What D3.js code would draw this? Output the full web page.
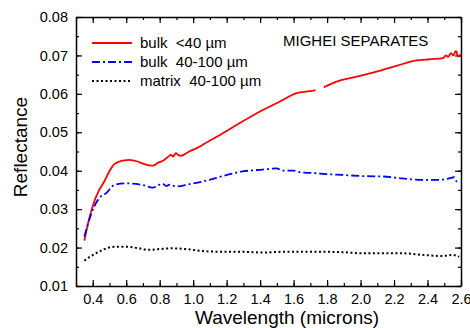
<!DOCTYPE html>
<html lang="en">
<head>
<meta charset="UTF-8">
<title>Mighei separates</title>
<style>
  body { margin: 0; background: #fff; }
  svg text { font-family: "Liberation Sans", Arial, sans-serif; fill: #000; }
  .axis path, .axis line { stroke: #000; }
  .axis path { stroke-width: 1.5; }
  .legend text { white-space: pre; }
</style>
</head>
<body>
<svg id="chart"></svg>
<script src="https://cdnjs.cloudflare.com/ajax/libs/d3/7.9.0/d3.min.js"></script>
<script>
// bulk <40 um (null = gap in the trace)
const bulkFineX = [0.35, 0.379, 0.409, 0.439, 0.469, 0.499, 0.529, 0.559, 0.59, 0.618, 0.668, 0.708, 0.758, 0.788, 0.827, 0.85, 0.867, 0.88, 0.897, 0.91, 0.927, 0.976, 1.04, 1.066, 1.16, 1.279, 1.399, 1.518, 1.618, 1.697, 1.73, 1.755, 1.78, 1.856, 1.976, 2.095, 2.215, 2.334, 2.413, 2.493, 2.51, 2.523, 2.54, 2.553, 2.57, 2.583, 2.6];
const bulkFineY = [0.0218, 0.0276, 0.0320, 0.0350, 0.0372, 0.0398, 0.0417, 0.0424, 0.0427, 0.0428, 0.0424, 0.0417, 0.0413, 0.0420, 0.0428, 0.0436, 0.0441, 0.0437, 0.0446, 0.0441, 0.0439, 0.0450, 0.0463, 0.0470, 0.0493, 0.0524, 0.0554, 0.0580, 0.0602, 0.0607, 0.0610, null, 0.0617, 0.0632, 0.0645, 0.0658, 0.0673, 0.0687, 0.0690, 0.0693, 0.0700, 0.0696, 0.0706, 0.0700, 0.0712, 0.0697, 0.0703];

// bulk 40-100 um
const bulkCoarseX = [0.35, 0.379, 0.409, 0.449, 0.479, 0.529, 0.599, 0.698, 0.758, 0.818, 0.84, 0.86, 0.897, 0.976, 1.096, 1.176, 1.295, 1.415, 1.498, 1.534, 1.597, 1.653, 1.717, 1.773, 1.892, 2.012, 2.131, 2.25, 2.37, 2.449, 2.529, 2.56, 2.575, 2.59];
const bulkCoarseY = [0.0228, 0.0272, 0.0307, 0.0333, 0.0341, 0.0363, 0.0367, 0.0363, 0.0356, 0.0366, 0.0360, 0.0364, 0.0359, 0.0365, 0.0376, 0.0386, 0.0398, 0.0403, 0.0406, 0.0400, 0.0400, 0.0395, 0.0394, 0.0392, 0.0389, 0.0386, 0.0385, 0.0380, 0.0376, 0.0376, 0.0380, 0.0383, 0.0372, 0.0378];

// matrix 40-100 um
const matrixX = [0.35, 0.379, 0.419, 0.469, 0.529, 0.599, 0.678, 0.728, 0.797, 0.877, 0.957, 1.056, 1.176, 1.295, 1.415, 1.534, 1.653, 1.773, 1.892, 2.012, 2.131, 2.25, 2.37, 2.489, 2.549, 2.589];
const matrixY = [0.0166, 0.0175, 0.0185, 0.0196, 0.0202, 0.0202, 0.0198, 0.0194, 0.0196, 0.0198, 0.0196, 0.0191, 0.0189, 0.0189, 0.0187, 0.0189, 0.0189, 0.0189, 0.0188, 0.0185, 0.0185, 0.0185, 0.0181, 0.0178, 0.0181, 0.0176];

const seriesNames = ["bulk  <40 \u00b5m", "bulk  40-100 \u00b5m", "matrix  40-100 \u00b5m"];
const xTicks = [0.4, 0.6, 0.8, 1.0, 1.2, 1.4, 1.6, 1.8, 2.0, 2.2, 2.4, 2.6];
const yTicks = [0.01, 0.02, 0.03, 0.04, 0.05, 0.06, 0.07, 0.08];

const w = 470, h = 328;
const m = { left: 76, right: 9, top: 17, bottom: 42 };

const svg = d3.select("#chart").attr("width", w).attr("height", h);

const x = d3.scaleLinear().domain([0.3, 2.6]).range([m.left, w - m.right]);
const y = d3.scaleLinear().domain([0.01, 0.08]).range([h - m.bottom, m.top]);

const xMinor = d3.range(0.3, 2.601, 0.1).map(v => +v.toFixed(2));
const yMinor = d3.range(0.01, 0.0801, 0.005).map(v => +v.toFixed(3));

function drawAxis(axisFn, scale, transform, major, minor, labels) {
  const g = svg.append("g").attr("class", "axis").attr("transform", transform);
  g.call(axisFn(scale).tickValues(minor).tickSizeInner(-3).tickSizeOuter(0).tickFormat(""));
  const g2 = svg.append("g").attr("class", "axis").attr("transform", transform);
  g2.call(axisFn(scale).tickValues(major).tickSizeInner(-6).tickSizeOuter(0)
    .tickPadding(8).tickFormat(labels ? labels : ""));
  g2.select(".domain").remove();
  g2.selectAll("line").attr("stroke-width", 1.2);
  g.selectAll("line").attr("stroke-width", 1.2);
  g2.selectAll("text").style("font-size", "14.5px");
  return g2;
}

drawAxis(d3.axisBottom, x, `translate(0,${h - m.bottom})`, xTicks, xMinor, d3.format(".1f"));
drawAxis(d3.axisTop, x, `translate(0,${m.top})`, xTicks, xMinor, null);
drawAxis(d3.axisLeft, y, `translate(${m.left},0)`, yTicks, yMinor, d3.format(".2f"));
drawAxis(d3.axisRight, y, `translate(${w - m.right},0)`, yTicks, yMinor, null);

// lines
const line = d3.line()
  .defined(d => d[1] !== null)
  .x(d => x(d[0]))
  .y(d => y(d[1]))
  .curve(d3.curveMonotoneX);

const series = [
  { xs: bulkFineX, ys: bulkFineY, color: "#ff0000", dash: null, width: 1.8 },
  { xs: bulkCoarseX, ys: bulkCoarseY, color: "#0000ff", dash: "8,3,2,3", width: 1.8 },
  { xs: matrixX, ys: matrixY, color: "#000000", dash: "2,2.5", width: 2 }
];

series.forEach(s => {
  svg.append("path")
    .datum(s.xs.map((v, i) => [v, s.ys[i]]))
    .attr("fill", "none")
    .attr("stroke", s.color)
    .attr("stroke-width", s.width)
    .attr("stroke-dasharray", s.dash)
    .attr("d", line);
});

// legend
const legend = svg.append("g").attr("class", "legend");
series.forEach((s, i) => {
  const ly = 43 + i * 19;
  legend.append("line")
    .attr("x1", 92).attr("x2", 132).attr("y1", ly).attr("y2", ly)
    .attr("stroke", s.color)
    .attr("stroke-width", s.width)
    .attr("stroke-dasharray", s.dash);
  legend.append("text")
    .attr("x", 140).attr("y", ly + 5)
    .style("font-size", "15px")
    .text(seriesNames[i]);
});

svg.append("text")
  .attr("x", 283).attr("y", 46)
  .style("font-size", "15px")
  .text("MIGHEI SEPARATES");

// axis titles
svg.append("text")
  .attr("x", 287).attr("y", 324)
  .attr("text-anchor", "middle")
  .style("font-size", "19px")
  .text("Wavelength (microns)");

svg.append("text")
  .attr("transform", "translate(27,147) rotate(-90)")
  .attr("text-anchor", "middle")
  .style("font-size", "19px")
  .text("Reflectance");
</script>
</body>
</html>
